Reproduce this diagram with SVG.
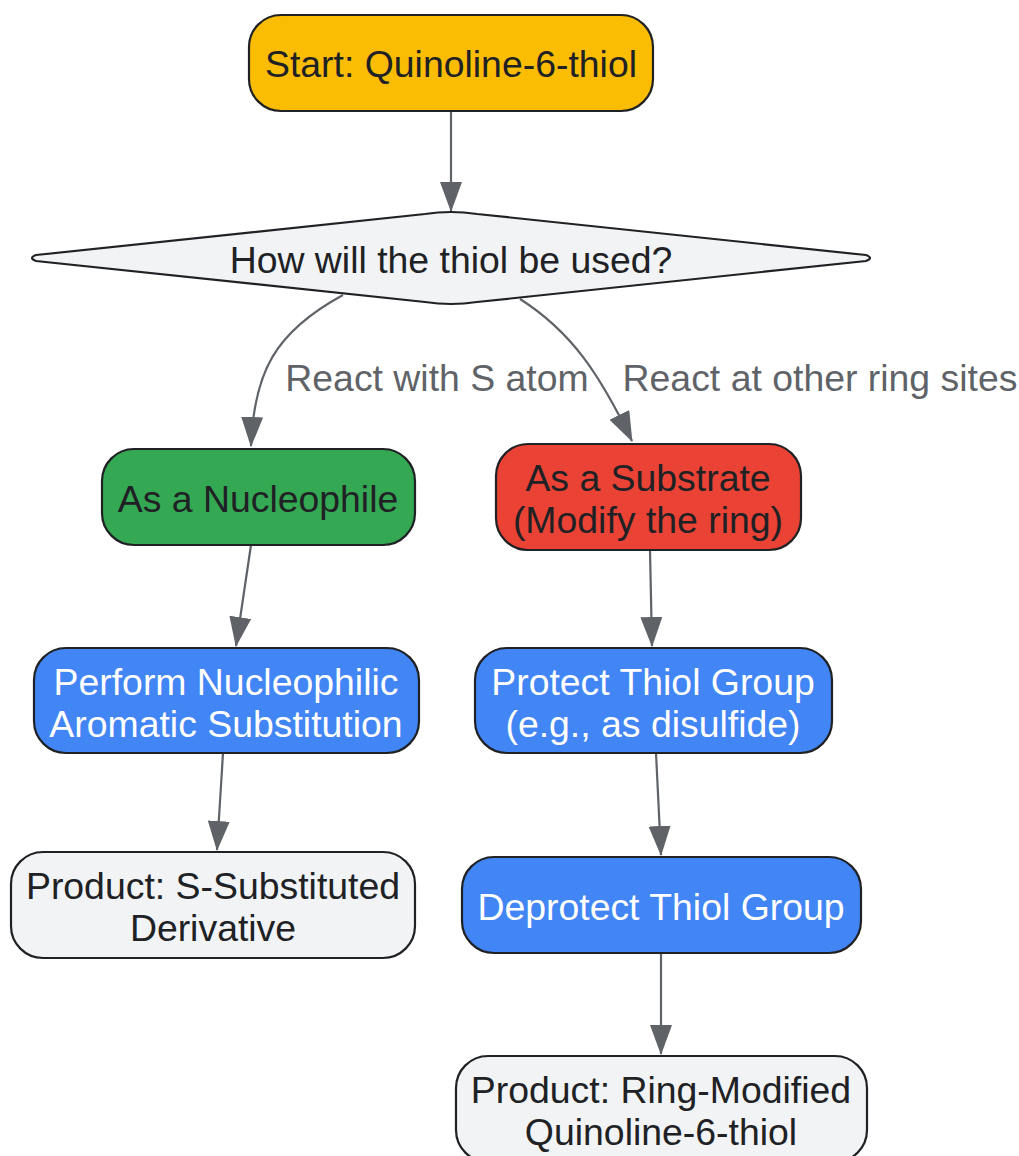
<svg xmlns="http://www.w3.org/2000/svg" width="1019" height="1156" viewBox="0 0 1019 1156">
<style>
.n{stroke:#202124;stroke-width:2.2}
.t{font-family:"Liberation Sans",Arial,sans-serif;font-size:37.4px;text-anchor:middle;fill:#202124}
.w{fill:#ffffff}
.e{fill:none;stroke:#5f6368;stroke-width:2.2}
.l{font-family:"Liberation Sans",Arial,sans-serif;font-size:37.4px;text-anchor:middle;fill:#5f6368}
</style>
<defs>
<marker id="arr" viewBox="0 0 30 22" markerWidth="30" markerHeight="22" refX="29" refY="11" orient="auto" markerUnits="userSpaceOnUse">
<path d="M0,0 L30,11 L0,22 z" fill="#5f6368"/>
</marker>
</defs>
<g id="edges">
<path class="e" d="M451,111 L451,211" marker-end="url(#arr)"/>
<path class="e" d="M343,295 C275,332 254,372 251,446" marker-end="url(#arr)"/>
<path class="e" d="M520,299 C572,332 600,375 632,441" marker-end="url(#arr)"/>
<path class="e" d="M251,545 L236,646" marker-end="url(#arr)"/>
<path class="e" d="M650,550 L652,646" marker-end="url(#arr)"/>
<path class="e" d="M223,753 L217,850" marker-end="url(#arr)"/>
<path class="e" d="M656,753 L661,855" marker-end="url(#arr)"/>
<path class="e" d="M661,953 L661,1054" marker-end="url(#arr)"/>
<text class="l" x="437" y="391">React with S atom</text>
<text class="l" x="820" y="391">React at other ring sites</text>
</g>
<g id="start">
<rect class="n" x="249" y="15" width="404" height="96" rx="32" fill="#FBBC04"/>
<text class="t" x="451" y="77">Start: Quinoline-6-thiol</text>
</g>
<g id="decision">
<path class="n" fill="#F1F3F4" d="M36,255 L425,214 Q451,210 477,214 L866,255 Q874,258 866,261 L477,302 Q451,306 425,302 L36,261 Q28,258 36,255 Z"/>
<text class="t" x="451" y="273">How will the thiol be used?</text>
</g>
<g id="nucleophile">
<rect class="n" x="102" y="449" width="313" height="96" rx="32" fill="#34A853"/>
<text class="t" x="258" y="512">As a Nucleophile</text>
</g>
<g id="substrate">
<rect class="n" x="496" y="444" width="305" height="106" rx="32" fill="#EA4335"/>
<text class="t" x="648" y="491">As a Substrate</text>
<text class="t" x="648" y="533">(Modify the ring)</text>
</g>
<g id="snar">
<rect class="n" x="34" y="648" width="385" height="105" rx="32" fill="#4285F4"/>
<text class="t w" x="226" y="695">Perform Nucleophilic</text>
<text class="t w" x="226" y="737">Aromatic Substitution</text>
</g>
<g id="protect">
<rect class="n" x="475" y="648" width="357" height="105" rx="32" fill="#4285F4"/>
<text class="t w" x="653" y="695">Protect Thiol Group</text>
<text class="t w" x="653" y="737">(e.g., as disulfide)</text>
</g>
<g id="productS">
<rect class="n" x="11" y="852" width="404" height="106" rx="32" fill="#F1F3F4"/>
<text class="t" x="213" y="899">Product: S-Substituted</text>
<text class="t" x="213" y="941">Derivative</text>
</g>
<g id="deprotect">
<rect class="n" x="462" y="857" width="399" height="96" rx="32" fill="#4285F4"/>
<text class="t w" x="661" y="920">Deprotect Thiol Group</text>
</g>
<g id="productRing">
<rect class="n" x="456" y="1056" width="411" height="106" rx="32" fill="#F1F3F4"/>
<text class="t" x="661" y="1103">Product: Ring-Modified</text>
<text class="t" x="661" y="1145">Quinoline-6-thiol</text>
</g>
</svg>
